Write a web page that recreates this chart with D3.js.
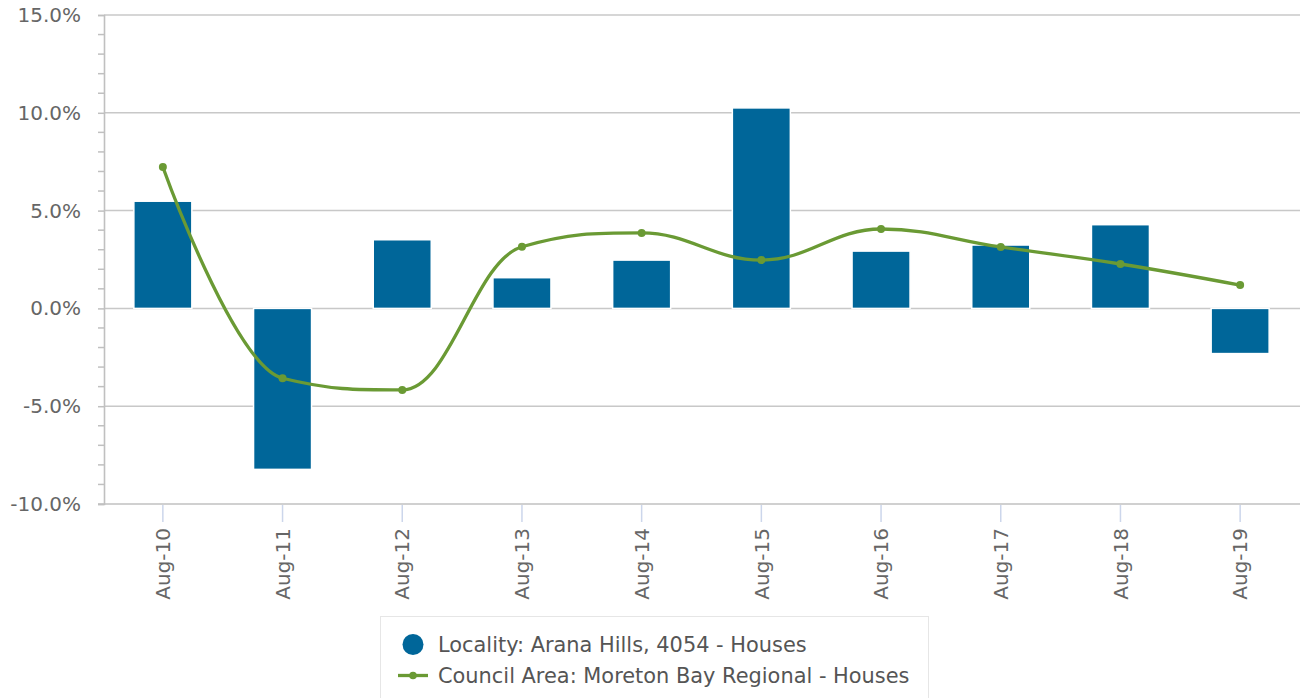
<!DOCTYPE html>
<html>
<head>
<meta charset="utf-8">
<script src="https://cdn.jsdelivr.net/npm/d3@7/dist/d3.min.js"></script>
<style>
  html, body { margin: 0; padding: 0; background: #fff; }
  svg { display: block; font-family: "DejaVu Sans", sans-serif; }
</style>
</head>
<body>
<svg id="chart" width="1300" height="698"></svg>
<script>
const categories = ["Aug-10","Aug-11","Aug-12","Aug-13","Aug-14","Aug-15","Aug-16","Aug-17","Aug-18","Aug-19"];
const localityValues = [5.48, -8.23, 3.51, 1.57, 2.47, 10.25, 2.93, 3.24, 4.28, -2.31];
const councilValues = [7.23, -3.57, -4.17, 3.15, 3.86, 2.47, 4.06, 3.14, 2.27, 1.19];
const yTicks = [-10, -5, 0, 5, 10, 15];
const legendLabels = ["Locality: Arana Hills, 4054 - Houses", "Council Area: Moreton Bay Regional - Houses"];

const barColor = "#006699";
const lineColor = "#6a9a34";

(function () {
const svg = d3.select("#chart");
const pLeft = 104, pRight = 1300, pTop = 15, pBottom = 504;

const x = d3.scaleBand().domain(categories).range([pLeft - 1, pRight]).paddingInner(0).paddingOuter(0);
const y = d3.scaleLinear().domain([-10, 15]).range([pBottom, pTop]);
const cx = c => x(c) + x.bandwidth() / 2;

// grid lines
svg.append("g").selectAll("line").data(yTicks.filter(t => t !== -10)).join("line")
  .attr("x1", pLeft).attr("x2", pRight)
  .attr("y1", d => y(d)).attr("y2", d => y(d))
  .attr("stroke", "#c8c8c8").attr("stroke-width", 1.5);

// y axis
const yAxis = d3.axisLeft(y).tickValues(yTicks).tickSize(6).tickPadding(17)
  .tickFormat(d => d.toFixed(1) + "%");
const gy = svg.append("g").attr("transform", `translate(${pLeft},0)`).call(yAxis);
gy.select(".domain").attr("stroke", "#c0c0c0").attr("stroke-width", 1.6);
gy.selectAll(".tick line").attr("stroke", "#c0c0c0").attr("stroke-width", 1.5);
gy.selectAll(".tick text").attr("fill", "#666").attr("font-size", "20px")
  .attr("font-family", "DejaVu Sans, sans-serif");
// minor ticks
const minor = d3.range(-10, 15.01, 1).filter(v => !yTicks.includes(v));
svg.append("g").selectAll("line").data(minor).join("line")
  .attr("x1", pLeft - 6).attr("x2", pLeft)
  .attr("y1", d => y(d)).attr("y2", d => y(d))
  .attr("stroke", "#c0c0c0").attr("stroke-width", 1.5);

// bars
svg.append("g").selectAll("rect").data(categories).join("rect")
  .attr("x", d => cx(d) - 29)
  .attr("width", 58)
  .attr("y", (d, i) => y(Math.max(0, localityValues[i])))
  .attr("height", (d, i) => Math.abs(y(localityValues[i]) - y(0)))
  .attr("fill", barColor)
  .attr("stroke", "#ffffff").attr("stroke-width", 1.5);

// x axis
const xAxis = d3.axisBottom(x).tickSize(18).tickSizeOuter(0).tickPadding(0);
const gx = svg.append("g").attr("transform", `translate(0,${pBottom})`).call(xAxis);
gx.select(".domain").remove();
svg.append("line").attr("x1", pLeft - 6).attr("x2", pRight).attr("y1", pBottom).attr("y2", pBottom)
  .attr("stroke", "#c0c0c0").attr("stroke-width", 1.6);
gx.selectAll(".tick line").attr("stroke", "#ccd6eb").attr("stroke-width", 1.5).attr("y1", 1);
gx.selectAll(".tick text")
  .attr("fill", "#666").attr("font-size", "20px").attr("font-family", "DejaVu Sans, sans-serif")
  .attr("text-anchor", "end")
  .attr("transform", "translate(0,24) rotate(-90)")
  .attr("x", 0).attr("y", 0).attr("dy", "0.36em");

// spline (Highcharts-style)
const pts = categories.map((c, i) => [cx(c), y(councilValues[i])]);
function splinePath(p) {
  const s = 1.5, den = s + 1;
  const ctrl = p.map(() => ({}));
  for (let i = 1; i < p.length - 1; i++) {
    const [px, py] = p[i], [lx, ly] = p[i - 1], [nx, ny] = p[i + 1];
    let lcx = (s * px + lx) / den, lcy = (s * py + ly) / den;
    let rcx = (s * px + nx) / den, rcy = (s * py + ny) / den;
    if (rcx !== lcx) {
      const corr = ((rcy - lcy) * (rcx - px)) / (rcx - lcx) + py - rcy;
      lcy += corr; rcy += corr;
    }
    if (lcy > ly && lcy > py) { lcy = Math.max(ly, py); rcy = 2 * py - lcy; }
    else if (lcy < ly && lcy < py) { lcy = Math.min(ly, py); rcy = 2 * py - lcy; }
    if (rcy > ny && rcy > py) { rcy = Math.max(ny, py); lcy = 2 * py - rcy; }
    else if (rcy < ny && rcy < py) { rcy = Math.min(ny, py); lcy = 2 * py - rcy; }
    ctrl[i] = { lcx, lcy, rcx, rcy };
  }
  let d = `M${p[0][0]},${p[0][1]}`;
  for (let i = 1; i < p.length; i++) {
    const prev = ctrl[i - 1], cur = ctrl[i];
    const c1x = prev.rcx !== undefined ? prev.rcx : p[i - 1][0];
    const c1y = prev.rcy !== undefined ? prev.rcy : p[i - 1][1];
    const c2x = cur.lcx !== undefined ? cur.lcx : p[i][0];
    const c2y = cur.lcy !== undefined ? cur.lcy : p[i][1];
    d += `C${c1x},${c1y},${c2x},${c2y},${p[i][0]},${p[i][1]}`;
  }
  return d;
}
svg.append("path").attr("d", splinePath(pts))
  .attr("fill", "none").attr("stroke", lineColor).attr("stroke-width", 3.3)
  .attr("stroke-linejoin", "round").attr("stroke-linecap", "round");
svg.append("g").selectAll("circle").data(categories).join("circle")
  .attr("cx", d => cx(d)).attr("cy", (d, i) => y(councilValues[i]))
  .attr("r", 4).attr("fill", lineColor);

// legend
const lg = svg.append("g");
lg.append("rect").attr("x", 380.5).attr("y", 616.5).attr("width", 548).attr("height", 90)
  .attr("fill", "#fff").attr("stroke", "#e6e6e6").attr("stroke-width", 1);
lg.append("circle").attr("cx", 413).attr("cy", 644.5).attr("r", 10.5).attr("fill", barColor);
lg.append("line").attr("x1", 398).attr("x2", 428).attr("y1", 675.5).attr("y2", 675.5)
  .attr("stroke", lineColor).attr("stroke-width", 3.3);
lg.append("circle").attr("cx", 413).attr("cy", 675.5).attr("r", 3.8).attr("fill", lineColor);
lg.selectAll("text").data(legendLabels).join("text")
  .attr("x", 438).attr("y", (d, i) => 651.5 + i * 31)
  .attr("fill", "#555").attr("font-size", "20.9px")
  .text(d => d);
})();
</script>
</body>
</html>
